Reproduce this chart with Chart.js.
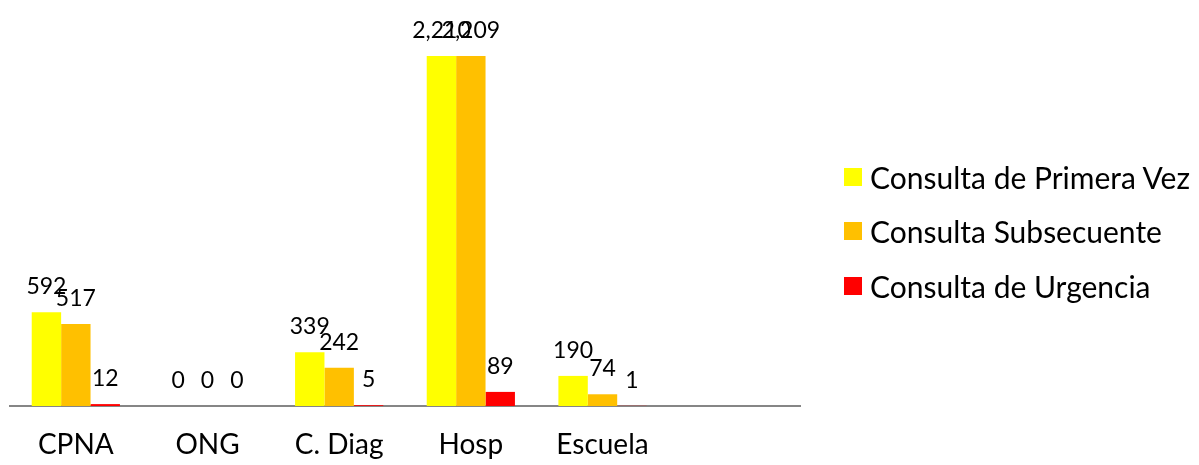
<!DOCTYPE html>
<html><head><meta charset="utf-8">
<script src="https://cdn.jsdelivr.net/npm/chart.js@4.4.1/dist/chart.umd.min.js"></script>
<style>
html,body{margin:0;padding:0;background:#fff;}
#wrap{position:relative;width:1199px;height:465px;}
canvas{position:absolute;left:0;top:0;}
#legend{position:absolute;left:844px;top:0;font-family:Lato,sans-serif;font-size:30px;color:#000;}
.item{position:absolute;left:0;display:flex;align-items:center;white-space:nowrap;height:36px;}
.sw{width:18px;height:18px;margin-right:8px;flex:none;}
</style></head><body>
<div id="wrap"><canvas id="c" width="1199" height="465"></canvas><div id="legend"></div></div>
<script>
const categories = ['CPNA', 'ONG', 'C. Diag', 'Hosp', 'Escuela', ''];
const seriesNames = ['Consulta de Primera Vez', 'Consulta Subsecuente', 'Consulta de Urgencia'];
const primeraVez = [592, 0, 339, 2210, 190, null];
const subsecuente = [517, 0, 242, 2209, 74, null];
const urgencia = [12, 0, 5, 89, 1, null];
const seriesColors = ['#FFFF00', '#FFC000', '#FF0000'];
const yMax = 2500;

const seriesValues = [primeraVez, subsecuente, urgencia];

const valueLabels = {
  id: 'valueLabels',
  afterDatasetsDraw(chart) {
    const ctx = chart.ctx;
    ctx.save();
    ctx.font = '23px Lato, sans-serif';
    ctx.fillStyle = '#000';
    ctx.textAlign = 'center';
    ctx.textBaseline = 'alphabetic';
    chart.data.datasets.forEach((ds, di) => {
      const meta = chart.getDatasetMeta(di);
      meta.data.forEach((el, i) => {
        const v = ds.data[i];
        if (v === null || v === undefined) return;
        ctx.fillText(v.toLocaleString('en-US'), el.x, el.y - 18);
      });
    });
    ctx.restore();
  }
};

const chart = new Chart(document.getElementById('c'), {
  type: 'bar',
  data: {
    labels: categories,
    datasets: seriesNames.map((name, i) => ({
      label: name,
      data: seriesValues[i],
      backgroundColor: seriesColors[i],
      borderWidth: 0,
      categoryPercentage: 0.67,
      barPercentage: 1
    }))
  },
  options: {
    responsive: false,
    animation: false,
    layout: { padding: { left: 10, right: 399, top: 10, bottom: 6 } },
    plugins: { legend: { display: false }, tooltip: { enabled: false } },
    scales: {
      x: {
        grid: { display: false, drawTicks: false },
        border: { display: true, color: '#868686', width: 2 },
        ticks: { color: '#000', padding: 22, maxRotation: 0, autoSkip: false, font: { family: 'Lato, sans-serif', size: 28 } },
        afterFit(scale) { scale.height = 53; }
      },
      y: { display: false, min: 0, max: yMax }
    }
  },
  plugins: [valueLabels]
});

const legendTops = [159, 213, 268];
const legend = document.getElementById('legend');
seriesNames.forEach((name, i) => {
  const item = document.createElement('div');
  item.className = 'item';
  item.style.top = legendTops[i] + 'px';
  const sw = document.createElement('div');
  sw.className = 'sw';
  sw.style.background = seriesColors[i];
  const t = document.createElement('span');
  t.textContent = name;
  item.appendChild(sw);
  item.appendChild(t);
  legend.appendChild(item);
});
</script>
</body></html>
